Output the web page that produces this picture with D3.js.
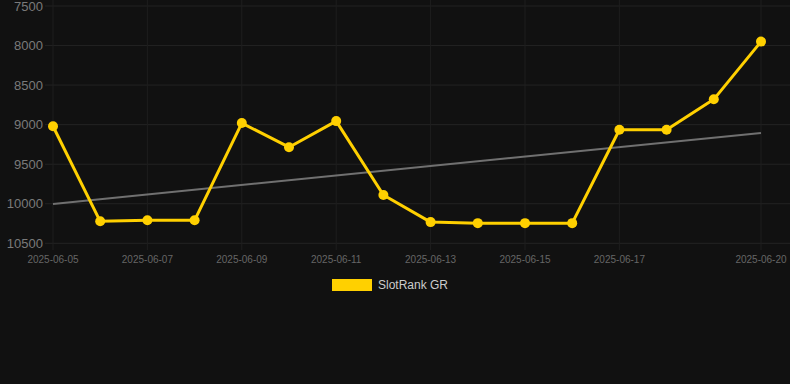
<!DOCTYPE html>
<html><head><meta charset="utf-8">
<script src="https://cdn.jsdelivr.net/npm/d3@7"></script>
<style>html,body{margin:0;padding:0;background:#111111;}svg{display:block;}</style>
</head><body>
<svg id="c" width="790" height="384"></svg>
<script>
const dates = ["2025-06-05","2025-06-06","2025-06-07","2025-06-08","2025-06-09","2025-06-10","2025-06-11","2025-06-12","2025-06-13","2025-06-14","2025-06-15","2025-06-16","2025-06-17","2025-06-18","2025-06-19","2025-06-20"];
const values = [9020,10222,10209,10209,8980,9285,8955,9890,10232,10245,10245,10245,9065,9065,8680,7950];
const trendDates = ["2025-06-05","2025-06-20"];
const trendValues = [10002,9105];
const yTicks = [7500,8000,8500,9000,9500,10000,10500];
const xTickLabels = ["2025-06-05","2025-06-07","2025-06-09","2025-06-11","2025-06-13","2025-06-15","2025-06-17","2025-06-20"];
const seriesName = "SlotRank GR";

const parse = d3.utcParse("%Y-%m-%d");
const svg = d3.select("#c");
const x = d3.scaleUtc().domain([parse(dates[0]), parse(dates[dates.length-1])]).range([53, 761]);
const y = d3.scaleLinear().domain([7500, 10500]).range([6, 243.3]);

// grid
const g = svg.append("g");
g.selectAll("line.h").data(yTicks).join("line")
  .attr("x1", 45).attr("x2", 790)
  .attr("y1", d => y(d)).attr("y2", d => y(d))
  .attr("stroke", "#232323").attr("stroke-width", 1);
g.selectAll("line.v").data(xTickLabels).join("line")
  .attr("x1", d => x(parse(d))).attr("x2", d => x(parse(d)))
  .attr("y1", 0).attr("y2", 250)
  .attr("stroke", "#1e1e1e").attr("stroke-width", 1);

// y axis labels
svg.append("g").selectAll("text").data(yTicks).join("text")
  .attr("x", 43).attr("y", d => y(d)).attr("dy", "0.35em")
  .attr("text-anchor", "end")
  .attr("font-family", "Liberation Sans, Arial, sans-serif").attr("font-size", 13)
  .attr("fill", "#7a7a7a").text(d => d);

// x axis labels
svg.append("g").selectAll("text").data(xTickLabels).join("text")
  .attr("x", d => x(parse(d))).attr("y", 259).attr("dy", "0.35em")
  .attr("text-anchor", "middle")
  .attr("font-family", "Liberation Sans, Arial, sans-serif").attr("font-size", 10)
  .attr("fill", "#666666").text(d => d);

// trend
svg.append("path")
  .datum(trendDates.map((d,i)=>({d:parse(d), v:trendValues[i]})))
  .attr("d", d3.line().x(p=>x(p.d)).y(p=>y(p.v)))
  .attr("fill","none").attr("stroke","#707070").attr("stroke-width",2);

// series
const pts = dates.map((d,i)=>({d:parse(d), v:values[i]}));
svg.append("path").datum(pts)
  .attr("d", d3.line().x(p=>x(p.d)).y(p=>y(p.v)))
  .attr("fill","none").attr("stroke","#FFD000").attr("stroke-width",3)
  .attr("stroke-linejoin","round");
svg.append("g").selectAll("circle").data(pts).join("circle")
  .attr("cx", p=>x(p.d)).attr("cy", p=>y(p.v)).attr("r", 5)
  .attr("fill","#FFD000");

// legend
const lg = svg.append("g");
lg.append("rect").attr("x",332).attr("y",279).attr("width",40).attr("height",12).attr("fill","#FFD000");
lg.append("text").attr("x",378).attr("y",285).attr("dy","0.35em")
  .attr("font-family","Liberation Sans, Arial, sans-serif").attr("font-size",12)
  .attr("fill","#cccccc").text(seriesName);
</script>
</body></html>
